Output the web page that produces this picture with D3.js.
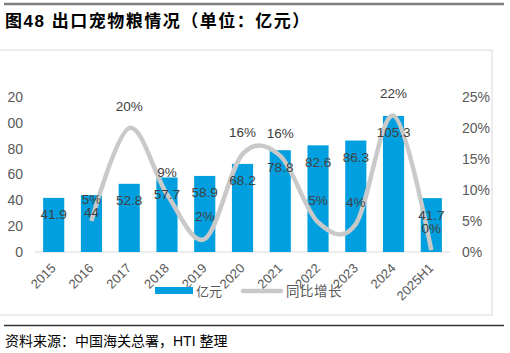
<!DOCTYPE html>
<html>
<head>
<meta charset="utf-8">
<script src="https://cdn.jsdelivr.net/npm/d3@7"></script>
<style>
  html, body { margin: 0; padding: 0; background: #fff; }
  svg { display: block; }
</style>
</head>
<body>
<svg id="chart" width="510" height="353"></svg>
<script>
const categories = ["2015","2016","2017","2018","2019","2020","2021","2022","2023","2024","2025H1"];
const exportValues = [41.9, 44, 52.8, 57.7, 58.9, 68.2, 78.8, 82.6, 86.3, 105.3, 41.7];
const growthCategories = ["2016","2017","2018","2019","2020","2021","2022","2023","2024","2025H1"];
const growthValues = [0.050, 0.200, 0.093, 0.021, 0.158, 0.155, 0.048, 0.045, 0.220, 0.003];
const growthLabels = ["5%","20%","9%","2%","16%","16%","5%","4%","22%","0%"];
const leftTicks = [0, 20, 40, 60, 80, 100, 120];
const rightTicks = [0, 0.05, 0.10, 0.15, 0.20, 0.25];
const seriesNames = ["亿元", "同比增长"];
const titleText = "图48  出口宠物粮情况（单位：亿元）";
const sourceText = "资料来源：中国海关总署，HTI 整理";

const barColor = "#00a0e0";
const lineColor = "#c9c9c9";
const textColor = "#595959";
const font = "'Liberation Sans', Arial, 'Noto Sans CJK SC', sans-serif";

const svg = d3.select("#chart");

// top rule + title
svg.append("line").attr("x1", 4).attr("x2", 504).attr("y1", 4).attr("y2", 4)
  .attr("stroke", "#7f7f7f").attr("stroke-width", 2.5);
svg.append("text").attr("x", 5).attr("y", 27)
  .attr("font-family", font).attr("font-weight", "bold").attr("font-size", 17)
  .attr("letter-spacing", 1.5)
  .attr("fill", "#000").text(titleText);

// chart frame
svg.append("rect").attr("x", -5).attr("y", 50).attr("width", 497).attr("height", 265)
  .attr("fill", "none").attr("stroke", "#e0e0e0").attr("stroke-width", 1.2);

const x = d3.scaleBand().domain(categories).range([35, 450])
  .paddingInner(0.44).paddingOuter(0.215);
const yL = d3.scaleLinear().domain([0, 120]).range([252, 97]);
const yR = d3.scaleLinear().domain([0, 0.25]).range([252, 97]);

// left axis labels (clipped at left edge like reference)
svg.append("clipPath").attr("id", "leftclip").append("rect")
  .attr("x", 7 - 23).attr("y", 0).attr("width", 40).attr("height", 353);
const leftAxis = svg.append("g").attr("transform", "translate(23,0)")
  .attr("clip-path", "url(#leftclip)");
leftAxis.call(d3.axisLeft(yL).tickValues(leftTicks).tickSize(0).tickPadding(0));
leftAxis.select(".domain").remove();
leftAxis.selectAll("text").attr("font-family", font).attr("font-size", 14)
  .attr("fill", textColor);

// right axis labels
const rightAxis = svg.append("g").attr("transform", "translate(462,0)");
rightAxis.call(d3.axisRight(yR).tickValues(rightTicks).tickSize(0).tickPadding(0)
  .tickFormat(d3.format(".0%")));
rightAxis.select(".domain").remove();
rightAxis.selectAll("text").attr("font-family", font).attr("font-size", 14)
  .attr("fill", textColor);

// baseline
svg.append("line").attr("x1", 35).attr("x2", 450).attr("y1", yL(0)).attr("y2", yL(0))
  .attr("stroke", "#d9d9d9").attr("stroke-width", 1);

// bars
svg.append("g").selectAll("rect").data(exportValues).join("rect")
  .attr("x", (d, i) => x(categories[i]))
  .attr("y", d => yL(d))
  .attr("width", x.bandwidth())
  .attr("height", d => yL(0) - yL(d))
  .attr("fill", barColor);

// line
const cx = c => x(c) + x.bandwidth() / 2;
const line = d3.line()
  .x((d, i) => cx(growthCategories[i]))
  .y(d => yR(d))
  .curve(d3.curveCardinal.tension(0));
svg.append("path").datum(growthValues).attr("d", line)
  .attr("fill", "none").attr("stroke", lineColor).attr("stroke-width", 4.5)
  .attr("stroke-linecap", "butt");

// bar value labels
svg.append("g").selectAll("text").data(exportValues).join("text")
  .attr("x", (d, i) => cx(categories[i]))
  .attr("y", d => yL(d) + 21.5)
  .attr("text-anchor", "middle")
  .attr("font-family", font).attr("font-size", 13.5).attr("fill", "#404040")
  .text(d => d);

// growth labels
svg.append("g").selectAll("text").data(growthValues).join("text")
  .attr("x", (d, i) => cx(growthCategories[i]))
  .attr("y", d => yR(d) - 17.5)
  .attr("text-anchor", "middle")
  .attr("font-family", font).attr("font-size", 13.5).attr("fill", "#404040")
  .text((d, i) => growthLabels[i]);

// x axis labels
svg.append("g").selectAll("text").data(categories).join("text")
  .attr("transform", c => `translate(${cx(c) + 3},269) rotate(-45)`)
  .attr("text-anchor", "end")
  .attr("font-family", font).attr("font-size", 13).attr("fill", textColor)
  .text(c => c);

// legend
svg.append("rect").attr("x", 155).attr("y", 287).attr("width", 38).attr("height", 7)
  .attr("fill", barColor);
svg.append("text").attr("x", 196).attr("y", 296)
  .attr("font-family", font).attr("font-size", 13).attr("fill", textColor)
  .text(seriesNames[0]);
svg.append("line").attr("x1", 243).attr("x2", 281).attr("y1", 291).attr("y2", 291)
  .attr("stroke", lineColor).attr("stroke-width", 4.5).attr("stroke-linecap", "round");
svg.append("text").attr("x", 286).attr("y", 296)
  .attr("font-family", font).attr("font-size", 13.5).attr("fill", textColor)
  .attr("letter-spacing", 0.5)
  .text(seriesNames[1]);

// bottom rule + source
svg.append("line").attr("x1", 4).attr("x2", 504).attr("y1", 325.5).attr("y2", 325.5)
  .attr("stroke", "#333").attr("stroke-width", 1.5);
svg.append("text").attr("x", 5).attr("y", 346)
  .attr("font-family", font).attr("font-size", 14).attr("fill", "#000")
  .text(sourceText);
</script>
</body>
</html>
